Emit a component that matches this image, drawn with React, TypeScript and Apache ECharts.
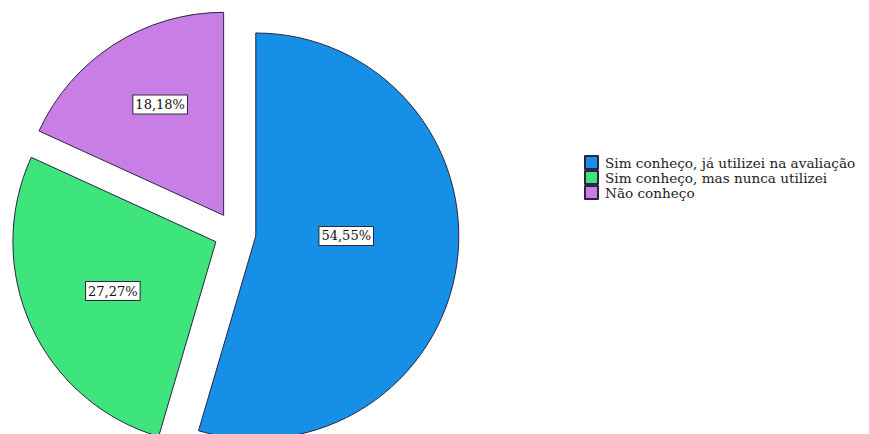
import React, { useEffect, useRef } from "react";
import * as echarts from "echarts";

const categories = [
  "Sim conheço, já utilizei na avaliação",
  "Sim conheço, mas nunca utilizei",
  "Não conheço",
];
const percents = [54.55, 27.27, 18.18];
const colors = ["#168FE6", "#3EE57C", "#C87EE4"];
const labelShift = [
  [-13, -15],
  [-8, 6],
  [-7, -23],
];

export default function App() {
  const ref = useRef<HTMLDivElement>(null);
  useEffect(() => {
    document.body.style.margin = "0";
    const chart = echarts.init(ref.current!, null, { renderer: "svg" });
    chart.setOption({
      animation: false,
      backgroundColor: "#ffffff",
      legend: {
        orient: "vertical",
        left: 584,
        top: 155,
        padding: 0,
        itemWidth: 13,
        itemHeight: 13,
        itemGap: 0,
        icon: "rect",
        selectedMode: false,
        textStyle: {
          fontFamily: "DejaVu Serif",
          fontSize: 13.6,
          lineHeight: 13,
          color: "#222",
          padding: [0, 0, 0, 2],
        },
        data: categories,
      },
      series: [
        {
          type: "pie",
          center: [235, 233],
          radius: [0, 203],
          startAngle: 90,
          clockwise: true,
          selectedMode: "multiple",
          selectedOffset: 21,
          emphasis: { disabled: true },
          itemStyle: { borderColor: "#2a2440", borderWidth: 1 },
          label: {
            show: true,
            position: "inside",
            formatter: (p: any) => p.value.toFixed(2).replace(".", ",") + "%",
            fontFamily: "DejaVu Serif",
            fontSize: 13,
            color: "#111",
            backgroundColor: "#ffffff",
            borderColor: "#2a2a3a",
            borderWidth: 1,
            padding: [3, 2, 2, 2],
          },
          labelLine: { show: false },
          labelLayout: (p: any) => ({
            dx: labelShift[p.dataIndex][0],
            dy: labelShift[p.dataIndex][1],
          }),
          data: categories.map((name, i) => ({
            name,
            value: percents[i],
            selected: true,
            itemStyle: { color: colors[i] },
          })),
        },
      ],
    });
    return () => chart.dispose();
  }, []);
  return (
    <div
      ref={ref}
      style={{ position: "absolute", left: 0, top: 0, width: 869, height: 434 }}
    />
  );
}
